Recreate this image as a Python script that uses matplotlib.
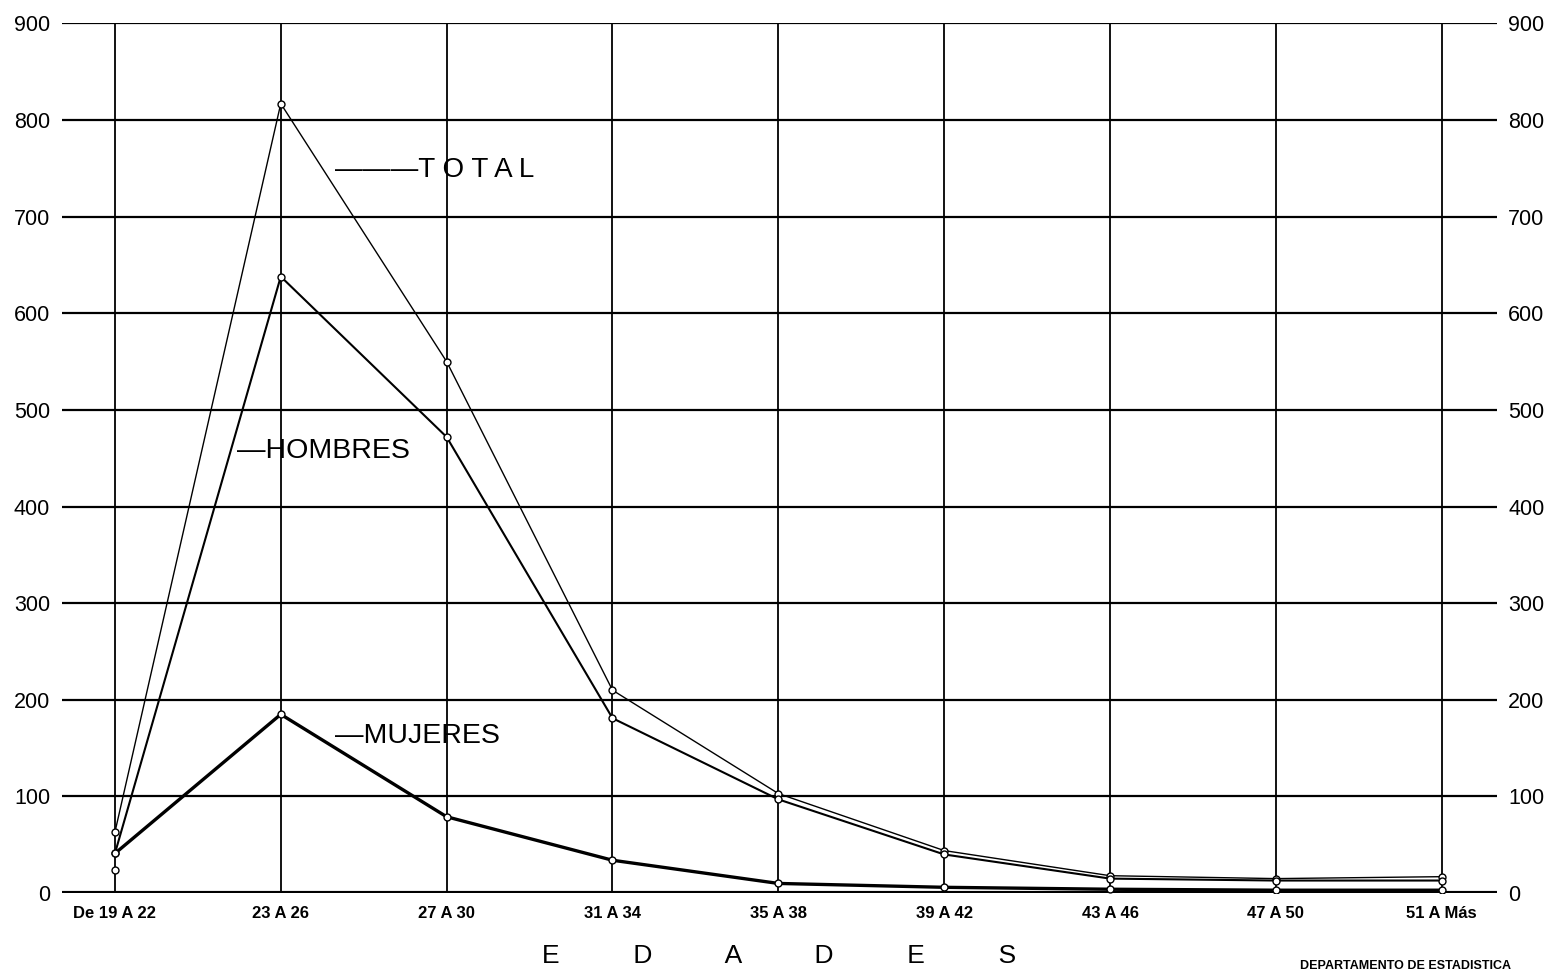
import numpy as np
import matplotlib
matplotlib.use("Agg")
import matplotlib.pyplot as plt

plt.rcParams['font.family'] = ['Liberation Sans', 'DejaVu Sans']

# age groups (EDADES)
edades = ['De 19 A 22', '23 A 26', '27 A 30', '31 A 34', '35 A 38',
          '39 A 42', '43 A 46', '47 A 50', '51 A Más']
total = [63, 817, 550, 210, 103, 44, 18, 15, 17]
hombres = [41, 638, 472, 181, 97, 40, 15, 13, 13]
mujeres = [41, 185, 79, 34, 10, 6, 4, 3, 3]
# stray circle drawn at the first group in the original sheet
punto_suelto = 24
y_ticks = [0, 100, 200, 300, 400, 500, 600, 700, 800, 900]

fig = plt.figure(figsize=(15.46, 9.75), dpi=100)
ax = fig.add_axes([0.040, 0.084, 0.928, 0.892])
x = np.arange(len(edades))

ax.set_xlim(-0.32, 8.33)
ax.set_ylim(0, 900)

# grid like the hand-drawn sheet
for yv in y_ticks:
    ax.axhline(yv, color='black', lw=3.0 if yv == 0 else 1.6, zorder=1)
for xv in x:
    ax.plot([xv, xv], [0, 900], color='black', lw=1.3, zorder=1)

mk = dict(marker='o', markersize=5, markerfacecolor='white',
          markeredgecolor='black', markeredgewidth=1.0, color='black', zorder=3)
ax.plot(x, total, lw=1.0, **mk)
ax.plot(x, hombres, lw=1.5, **mk)
ax.plot(x, mujeres, lw=2.4, **mk)
ax.plot([x[0]], [punto_suelto], linestyle='none', **mk)

# in-chart labels
ax.text(1.325, 748, '———T O T A L', fontsize=20, va='center', ha='left')
ax.text(0.735, 458, '—HOMBRES', fontsize=20.5, va='center', ha='left')
ax.text(1.325, 163, '—MUJERES', fontsize=20.5, va='center', ha='left')

for s in ax.spines.values():
    s.set_visible(False)

ax.set_yticks(y_ticks)
ax.set_yticklabels([str(v) for v in y_ticks], fontsize=15.5)
ax.tick_params(axis='y', left=False, right=False, labelleft=True,
               labelright=True, pad=5)

ax.set_xticks(x)
ax.set_xticklabels(edades, fontsize=12, fontweight='bold')
ax.tick_params(axis='x', bottom=False, pad=6)

ax.set_xlabel((' ' * 10).join('EDADES'), fontsize=19, labelpad=16)

fig.text(0.909, 0.003, 'DEPARTAMENTO DE ESTADISTICA', fontsize=9,
         fontweight='bold', ha='center', va='bottom')

fig.savefig('out.png', dpi=100, facecolor='white')
